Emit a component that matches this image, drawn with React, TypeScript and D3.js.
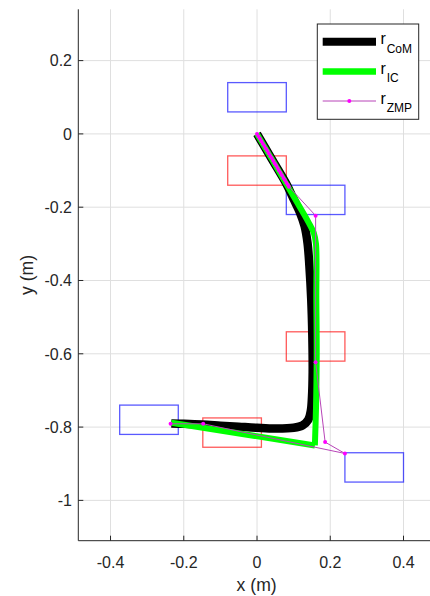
import React from 'react';
import * as d3 from 'd3';

// ---- data ----
const xTicks = [-0.4, -0.2, 0, 0.2, 0.4];
const xTickLabels = ['-0.4', '-0.2', '0', '0.2', '0.4'];
const yTicks = [0.2, 0, -0.2, -0.4, -0.6, -0.8, -1];
const yTickLabels = ['0.2', '0', '-0.2', '-0.4', '-0.6', '-0.8', '-1'];

// CoM trajectory
const comX = [0, 0.04, 0.08, 0.1, 0.117, 0.13, 0.138, 0.143, 0.148, 0.151, 0.152, 0.15, 0.147, 0.14, 0.125, 0.1, 0.05, 0.0, -0.05, -0.1, -0.15, -0.2, -0.234];
const comY = [0, -0.068, -0.136, -0.178, -0.214, -0.252, -0.298, -0.36, -0.45, -0.55, -0.65, -0.72, -0.755, -0.78, -0.795, -0.802, -0.804, -0.802, -0.799, -0.796, -0.793, -0.791, -0.79];

// instantaneous capture point
const icX = [0, 0.04, 0.085, 0.116, 0.14, 0.155, 0.161, 0.162, 0.163, 0.161, 0.158, -0.234];
const icY = [0, -0.068, -0.145, -0.198, -0.24, -0.27, -0.3, -0.45, -0.6, -0.75, -0.85, -0.788];

// ZMP
const zmpX = [0, 0.004, 0.008, 0.012, 0.016, 0.02, 0.024, 0.028, 0.032, 0.036, 0.04, 0.044, 0.048, 0.052, 0.056, 0.06, 0.064, 0.068, 0.072, 0.076, 0.08, 0.084, 0.087, 0.16, 0.16, 0.186, 0.24, -0.147, -0.236];
const zmpY = [0, -0.007, -0.013, -0.02, -0.027, -0.033, -0.04, -0.046, -0.053, -0.06, -0.066, -0.073, -0.08, -0.086, -0.093, -0.1, -0.106, -0.113, -0.12, -0.126, -0.133, -0.139, -0.144, -0.223, -0.623, -0.841, -0.872, -0.791, -0.791];

// footsteps
const blueX0 = [-0.08, 0.08, 0.24, -0.375];
const blueX1 = [0.08, 0.24, 0.40, -0.215];
const blueY0 = [0.06, -0.22, -0.95, -0.82];
const blueY1 = [0.14, -0.14, -0.87, -0.74];
const redX0 = [-0.08, 0.08, -0.148];
const redX1 = [0.08, 0.24, 0.012];
const redY0 = [-0.14, -0.62, -0.855];
const redY1 = [-0.06, -0.54, -0.775];

const legendLabels = [['r', 'CoM'], ['r', 'IC'], ['r', 'ZMP']];

// ---- layout ----
const W = 430, H = 596;
const left = 78.3, right = 435, top = 9.3, bottom = 540.7;
const FONT = '"Liberation Sans", Arial, Helvetica, sans-serif';
const AX = '#262626';

export default function App() {
  const x = d3.scaleLinear().domain([-0.488, 0.486]).range([left, right]);
  const y = d3.scaleLinear().domain([-1.11, 0.34]).range([bottom, top]);

  const pts = (xs: number[], ys: number[]) => xs.map((v, i) => [v, ys[i]] as [number, number]);
  const smooth = d3.line<[number, number]>().x(d => x(d[0])).y(d => y(d[1])).curve(d3.curveCatmullRom.alpha(0.5));
  const straight = d3.line<[number, number]>().x(d => x(d[0])).y(d => y(d[1]));

  const com = pts(comX, comY);
  const icPts = pts(icX, icY);
  const ic1 = icPts.slice(0, icPts.length - 1);
  const icPathA = smooth(ic1) || '';
  const icPathB = straight(icPts.slice(icPts.length - 2)) || '';
  const zmp = pts(zmpX, zmpY);

  const legX = 317.3, legY = 24, legW = 101.4, legH = 95.3;
  const rowY = [41.7, 71.5, 101];

  return (
    <div style={{ position: 'absolute', left: 0, top: 0 }}>
      <svg width={W} height={H} style={{ display: 'block', background: '#fff' }} fontFamily={FONT}>
        <rect x={0} y={0} width={W} height={H} fill="#fff" />
        {/* grid */}
        {xTicks.map((t, i) => (
          <line key={'gx' + i} x1={x(t)} x2={x(t)} y1={top} y2={bottom} stroke="#dfdfdf" strokeWidth={1} />
        ))}
        {yTicks.map((t, i) => (
          <line key={'gy' + i} x1={left} x2={right} y1={y(t)} y2={y(t)} stroke="#dfdfdf" strokeWidth={1} />
        ))}
        {/* footsteps */}
        {blueX0.map((v, i) => (
          <rect key={'b' + i} x={x(v)} y={y(blueY1[i])} width={x(blueX1[i]) - x(v)} height={y(blueY0[i]) - y(blueY1[i])}
            fill="none" stroke="#0000ff" strokeOpacity={0.65} strokeWidth={1.3} />
        ))}
        {redX0.map((v, i) => (
          <rect key={'r' + i} x={x(v)} y={y(redY1[i])} width={x(redX1[i]) - x(v)} height={y(redY0[i]) - y(redY1[i])}
            fill="none" stroke="#ff0000" strokeOpacity={0.65} strokeWidth={1.3} />
        ))}
        {/* CoM */}
        <path d={smooth(com) || ''} fill="none" stroke="#000" strokeWidth={8.5} strokeLinejoin="round" />
        {/* IC */}
        <path d={icPathA} fill="none" stroke="#00ff00" strokeWidth={6} strokeLinejoin="round" />
        <path d={icPathB} fill="none" stroke="#00ff00" strokeWidth={6} strokeLinejoin="round" />
        {/* ZMP */}
        <path d={straight(zmp) || ''} fill="none" stroke="#b845b8" strokeWidth={1} />
        {zmp.map((p, i) => (
          <circle key={'z' + i} cx={x(p[0])} cy={y(p[1])} r={2} fill="#ff00ff" />
        ))}
        {/* axes */}
        <line x1={left} x2={left} y1={top} y2={bottom} stroke={AX} strokeWidth={1} />
        <line x1={left} x2={right} y1={bottom} y2={bottom} stroke={AX} strokeWidth={1} />
        {xTicks.map((t, i) => (
          <g key={'xt' + i}>
            <line x1={x(t)} x2={x(t)} y1={bottom} y2={bottom - 5} stroke={AX} strokeWidth={1} />
            <text x={x(t)} y={567.5} textAnchor="middle" fontSize={16} fill={AX}>{xTickLabels[i]}</text>
          </g>
        ))}
        {yTicks.map((t, i) => (
          <g key={'yt' + i}>
            <line x1={left} x2={left + 5} y1={y(t)} y2={y(t)} stroke={AX} strokeWidth={1} />
            <text x={72} y={y(t)} dy="0.36em" textAnchor="end" fontSize={16} fill={AX}>{yTickLabels[i]}</text>
          </g>
        ))}
        <text x={(left + right) / 2} y={591} textAnchor="middle" fontSize={17.6} fill={AX}>x (m)</text>
        <text transform={`translate(33.3,${(top + bottom) / 2}) rotate(-90)`} textAnchor="middle" fontSize={17.6} fill={AX}>y (m)</text>
        {/* legend */}
        <rect x={legX} y={legY} width={legW} height={legH} fill="#fff" stroke={AX} strokeWidth={1} />
        <line x1={322.7} x2={376} y1={rowY[0]} y2={rowY[0]} stroke="#000" strokeWidth={8} />
        <line x1={322.7} x2={376} y1={rowY[1]} y2={rowY[1]} stroke="#00ff00" strokeWidth={6.5} />
        <line x1={322.7} x2={376} y1={rowY[2]} y2={rowY[2]} stroke="#b845b8" strokeWidth={1} />
        <circle cx={349.3} cy={rowY[2]} r={2} fill="#ff00ff" />
        {legendLabels.map((l, i) => (
          <text key={'lg' + i} x={380.5} y={rowY[i] + 2.6} fontSize={16} fill="#000">
            {l[0]}<tspan fontSize={12} dy={8.3} dx={0.8}>{l[1]}</tspan>
          </text>
        ))}
      </svg>
    </div>
  );
}
